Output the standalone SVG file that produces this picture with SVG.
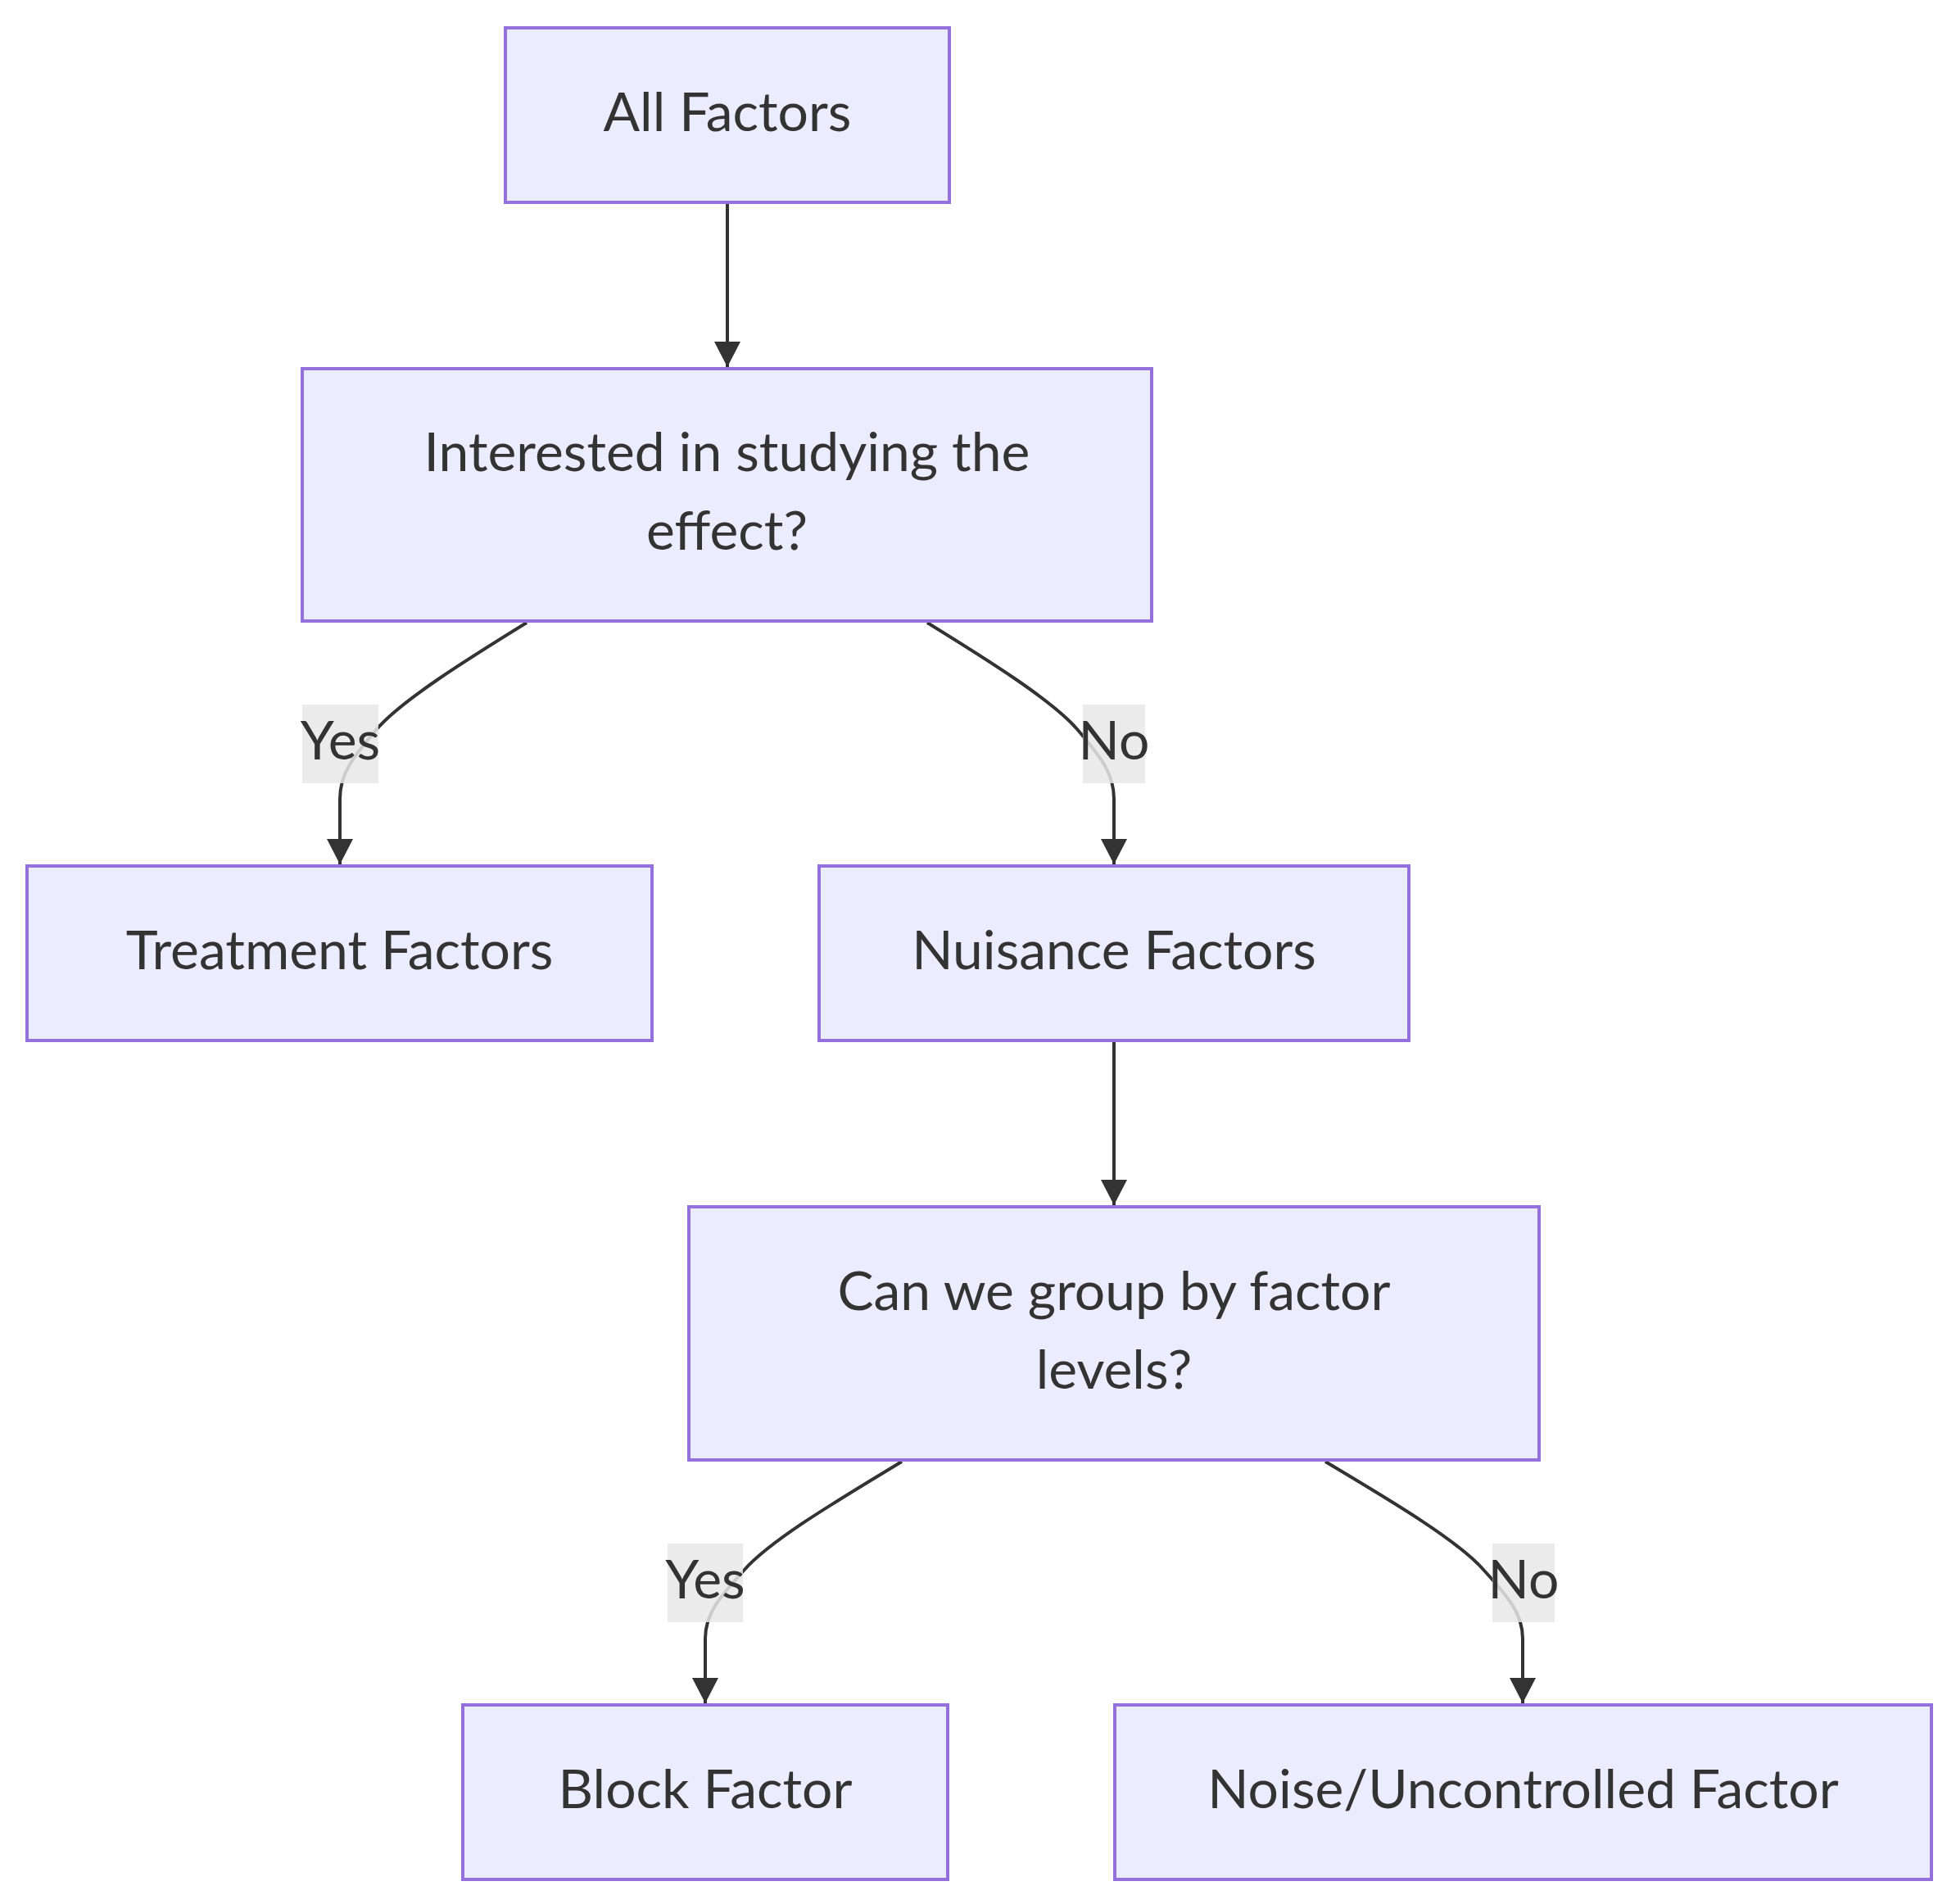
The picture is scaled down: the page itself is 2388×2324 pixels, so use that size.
<svg xmlns="http://www.w3.org/2000/svg" width="2388" height="2324" viewBox="0 0 2388 2324">
<defs>
<style>
.node rect{fill:#ECECFF;stroke:#9370DB;stroke-width:4}
.node text,.lbl text{font-family:Lato,"Liberation Sans",sans-serif;font-size:66px;fill:#333;text-anchor:middle}
.edge{fill:none;stroke:#333;stroke-width:4;marker-end:url(#arr)}
.lbl rect{fill:#e8e8e8;fill-opacity:0.85}
</style>
<marker id="arr" markerUnits="userSpaceOnUse" markerWidth="32" markerHeight="32" refX="31" refY="16" orient="auto" viewBox="0 0 32 32">
<path d="M0,0 L31,16 L0,32 z" fill="#333"/>
</marker>
</defs>
<rect width="2388" height="2324" fill="#fff"/>
<g id="connectors">
<path class="edge" d="M888,249 L888,448"/>
<path class="edge" d="M643,760 C570,805 490,855 460,890 C430,925 415,945 415,975 L415,1055"/>
<path class="edge" d="M1132,760 C1205,805 1285,855 1315,890 C1345,925 1360,945 1360,975 L1360,1055"/>
<path class="edge" d="M1360,1272 L1360,1471"/>
<path class="edge" d="M1101,1784 C1025,1830 940,1880 908,1917 C878,1950 861,1970 861,2000 L861,2079"/>
<path class="edge" d="M1618,1784 C1695,1830 1780,1880 1812,1917 C1842,1950 1859,1970 1859,2000 L1859,2079"/>
</g>
<g id="edge-labels">
<g class="lbl" id="lbl-yes-1"><rect x="369" y="860" width="93" height="96"/><text x="415.5" y="927">Yes</text></g>
<g class="lbl" id="lbl-no-1"><rect x="1322" y="860" width="76" height="96"/><text x="1360" y="927">No</text></g>
<g class="lbl" id="lbl-yes-2"><rect x="815" y="1884" width="92" height="96"/><text x="861" y="1951">Yes</text></g>
<g class="lbl" id="lbl-no-2"><rect x="1822" y="1884" width="76" height="96"/><text x="1860" y="1951">No</text></g>
</g>
<g class="node" id="node-all"><rect x="617" y="34" width="542" height="213"/><text x="888" y="160">All Factors</text></g>
<g class="node" id="node-interested"><rect x="369" y="450" width="1037" height="308"/><text x="887.5" y="575">Interested in studying the</text><text x="887.5" y="671">effect?</text></g>
<g class="node" id="node-treatment"><rect x="33" y="1057" width="763" height="213"/><text x="414.5" y="1183">Treatment Factors</text></g>
<g class="node" id="node-nuisance"><rect x="1000" y="1057" width="720" height="213"/><text x="1360" y="1183">Nuisance Factors</text></g>
<g class="node" id="node-group"><rect x="841" y="1473" width="1038" height="309"/><text x="1360" y="1599">Can we group by factor</text><text x="1360" y="1695">levels?</text></g>
<g class="node" id="node-block"><rect x="565" y="2081" width="592" height="213"/><text x="861" y="2207">Block Factor</text></g>
<g class="node" id="node-noise"><rect x="1361" y="2081" width="997" height="213"/><text x="1859.5" y="2207">Noise/Uncontrolled Factor</text></g>
</svg>
